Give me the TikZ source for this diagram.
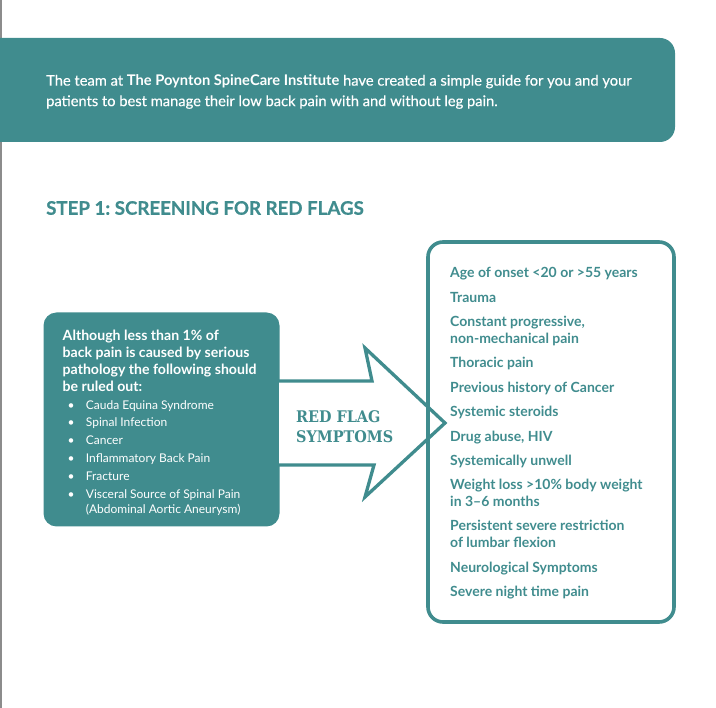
\documentclass[tikz,border=0pt]{standalone}
\usepackage{fontspec}
\setmainfont{Lato}
\newfontfamily\mediumfont[FakeBold=0.35]{Lato}
\newfontfamily\heavyfont[BoldFeatures={FakeBold=0.6}]{Lato}
\newfontfamily\slabfont[FakeStretch=0.9]{DejaVu Serif}
\usetikzlibrary{positioning}
\definecolor{spineteal}{RGB}{64,140,142}
\frenchspacing

\begin{document}
\begin{tikzpicture}[x=1pt, y=-1pt,
    tealbox/.style={fill=spineteal, rounded corners=13pt, inner sep=0pt},
    flagbox/.style={draw=spineteal, line width=3.6pt, rounded corners=15pt, inner sep=0pt},
    flagarrow/.style={draw=spineteal, fill=white, line width=3.3pt, line join=miter},
    introtext/.style={text=white, font=\fontsize{14.7}{20.5}\selectfont\mediumfont, align=left, anchor=north west, inner sep=0pt},
    steptitle/.style={text=spineteal, font=\fontsize{18.7}{18.7}\selectfont\heavyfont\bfseries, anchor=west, inner sep=0pt},
    causetitle/.style={text=white, font=\fontsize{14.1}{17}\selectfont\bfseries, align=left, anchor=north west, inner sep=0pt},
    causelist/.style={text=white, font=\fontsize{12}{15.7}\selectfont, align=left, anchor=north west, inner sep=0pt},
    flaglabel/.style={text=spineteal, font=\fontsize{16}{20}\selectfont\slabfont\bfseries, align=left, anchor=west, inner sep=0pt},
    flagtext/.style={text=spineteal, font=\fontsize{14}{16.7}\selectfont\bfseries, align=left, anchor=north west, inner sep=0pt}]

    \useasboundingbox (0,0) rectangle (716,708);

    % Page edge
    \draw[line width=1.5pt, black!45] (0.75,0) -- (0.75,708);

    % Banner
    \fill[spineteal, rounded corners=15pt] (-20,38) rectangle (675,142);
    \node[introtext] (intro) at (46,74.5) {The team at {\normalfont\bfseries The Poynton SpineCare Institute} have created a simple guide for you and your\\
        patients to best manage their low back pain with and without leg pain.};

    % Step heading
    \node[steptitle] (step) at (46,208) {STEP 1: SCREENING FOR RED FLAGS};

    % Serious pathology box
    \node[tealbox, minimum width=236pt, minimum height=214pt] (causes) at (161.5,419.5) {};
    \node[causetitle] (why) at (62.5,330) {Although less than 1\% of\\
        back pain is caused by serious\\
        pathology the following should\\
        be ruled out:};
    \node[causelist] (conditions) at (67.5,400) {%
        \makebox[18.2pt][l]{\textbullet}Cauda Equina Syndrome\\[2.1pt]
        \makebox[18.2pt][l]{\textbullet}Spinal Infection\\[2.1pt]
        \makebox[18.2pt][l]{\textbullet}Cancer\\[2.1pt]
        \makebox[18.2pt][l]{\textbullet}Inflammatory Back Pain\\[2.1pt]
        \makebox[18.2pt][l]{\textbullet}Fracture\\[2.1pt]
        \makebox[18.2pt][l]{\textbullet}Visceral Source of Spinal Pain\\
        \hspace*{18.2pt}(Abdominal Aortic Aneurysm)};

    % Arrow to the red flags
    \coordinate (tip) at (445,423);
    \draw[flagarrow] (279,381) -- (372,381) -- (365,348) -- (tip) -- (365,497) -- (374,465) -- (279,465);
    \node[flaglabel] (redflag) at (296,427) {RED FLAG\\SYMPTOMS};

    % Red flag list
    \node[flagbox, minimum width=246pt, minimum height=380pt] (flags) at (551,432) {};
    \node[flagtext] (symptoms) at (450,267.5) {%
        Age of onset <20 or >55 years\\[7.7pt]
        Trauma\\[7.7pt]
        Constant progressive,\\
        non-mechanical pain\\[7.7pt]
        Thoracic pain\\[7.7pt]
        Previous history of Cancer\\[7.7pt]
        Systemic steroids\\[7.7pt]
        Drug abuse, HIV\\[7.7pt]
        Systemically unwell\\[7.7pt]
        Weight loss >10\% body weight\\
        in 3–6 months\\[7.7pt]
        Persistent severe restriction\\
        of lumbar flexion\\[7.7pt]
        Neurological Symptoms\\[7.7pt]
        Severe night time pain};

\end{tikzpicture}
\end{document}
